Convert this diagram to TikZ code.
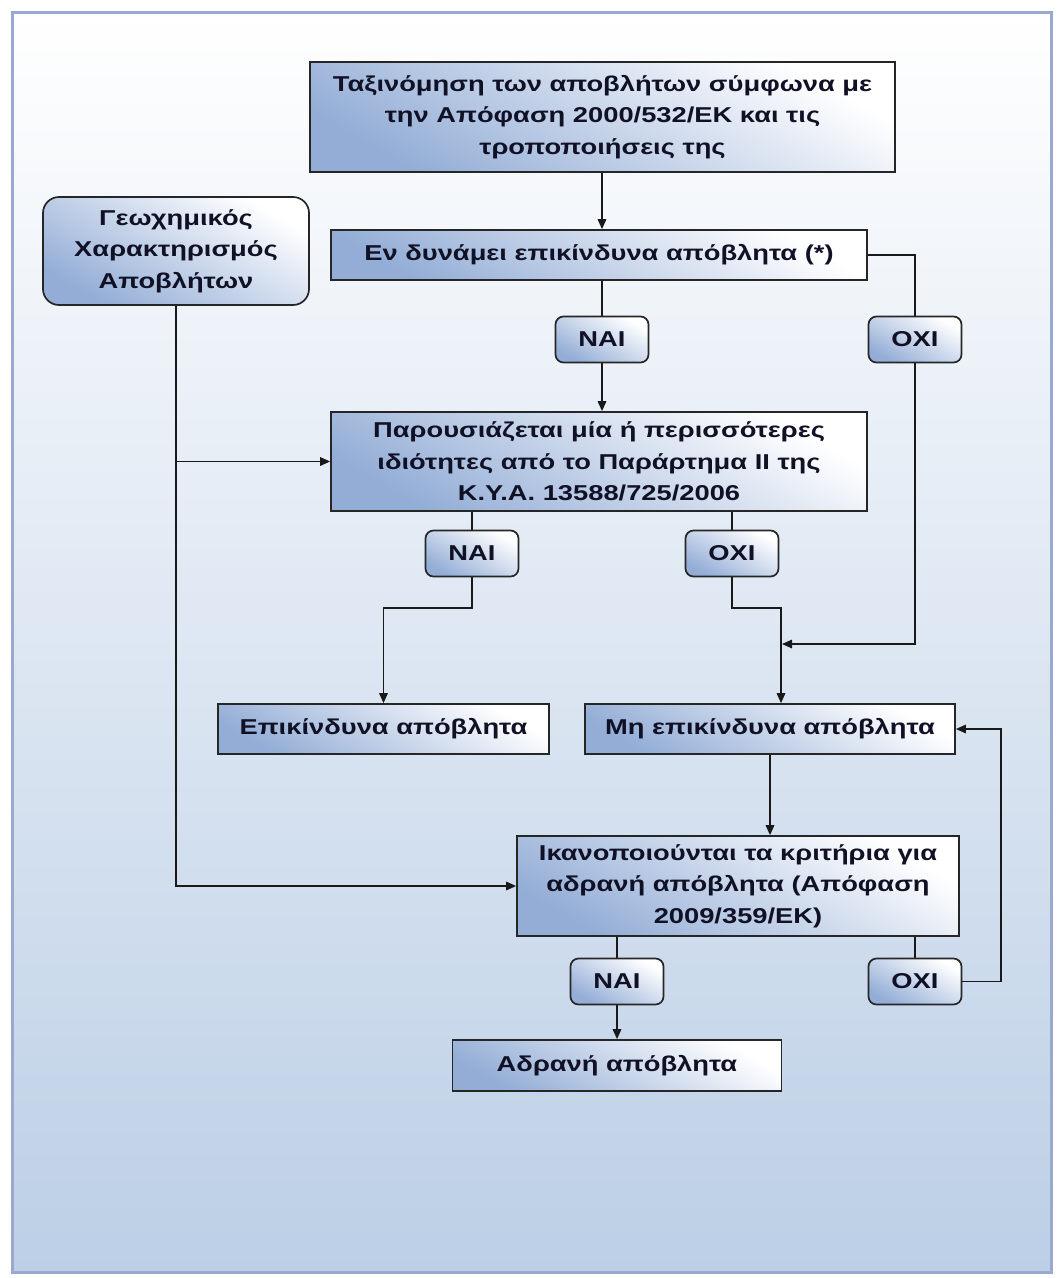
\documentclass[tikz,border=0pt]{standalone}
\usepackage{fontspec}
\setmainfont{Liberation Sans}[FakeStretch=1.27]
\usetikzlibrary{arrows.meta,calc}
\definecolor{boxblue}{HTML}{93ADD6}
\definecolor{bgblue}{HTML}{BCCFE6}
\definecolor{framec}{HTML}{9AA9CF}
\definecolor{txt}{HTML}{111126}
\begin{document}
\begin{tikzpicture}[x=1pt,y=-1pt,
  every node/.style={font=\fontsize{21.5}{31.5}\selectfont\bfseries, text=txt},
  sqbox/.style={draw=black!85, line width=1.7pt, top color=white, bottom color=boxblue,
    shading angle=-30, align=center, inner sep=0pt},
  rdbox/.style={sqbox, rounded corners=16pt},
  lbl/.style={sqbox, rounded corners=8pt, minimum width=93pt, minimum height=46pt},
  ln/.style={draw=black!90, line width=1.6pt},
  arr/.style={ln, -{Triangle[length=10pt,width=8.5pt]}}
]
\useasboundingbox (0,0) rectangle (1060,1278);
\fill[white] (0,0) rectangle (1060,1278);
\shade[top color=white, bottom color=bgblue] (12,12) rectangle (1051,1272);
\draw[framec, line width=3pt] (12,12) rectangle (1051,1272);

% nodes
\node[sqbox, minimum width=585pt, minimum height=110pt] (b1) at (602.5,117)
  {Ταξινόμηση των αποβλήτων σύμφωνα με\\την Απόφαση 2000/532/ΕΚ και τις\\τροποποιήσεις της};
\node[rdbox, minimum width=266pt, minimum height=108pt] (geo) at (176,251)
  {Γεωχημικός\\Χαρακτηρισμός\\Αποβλήτων};
\node[sqbox, minimum width=536pt, minimum height=50pt] (b2) at (599,255)
  {Εν δυνάμει επικίνδυνα απόβλητα (*)};
\node[lbl] (nai1) at (602,339.5) {ΝΑΙ};
\node[lbl] (oxi1) at (915,339.5) {ΟΧΙ};
\node[sqbox, minimum width=536pt, minimum height=99pt] (b3) at (599,461.5)
  {Παρουσιάζεται μία ή περισσότερες\\ιδιότητες από το Παράρτημα ΙΙ της\\Κ.Υ.Α. 13588/725/2006};
\node[lbl] (nai2) at (472,553.5) {ΝΑΙ};
\node[lbl] (oxi2) at (732,553.5) {ΟΧΙ};
\node[sqbox, minimum width=331pt, minimum height=50pt] (b4) at (383.5,729)
  {Επικίνδυνα απόβλητα};
\node[sqbox, minimum width=370pt, minimum height=50pt] (b5) at (770,729)
  {Μη επικίνδυνα απόβλητα};
\node[sqbox, minimum width=442pt, minimum height=100pt] (b6) at (738,886)
  {Ικανοποιούνται τα κριτήρια για\\αδρανή απόβλητα (Απόφαση\\2009/359/ΕΚ)};
\node[lbl] (nai3) at (617,981.5) {ΝΑΙ};
\node[lbl] (oxi3) at (915,981.5) {ΟΧΙ};
\node[sqbox, minimum width=329pt, minimum height=51pt] (b7) at (617,1065.5)
  {Αδρανή απόβλητα};

% helper coordinates
\coordinate (k1) at (472,608);
\coordinate (k2) at (781,608);
\coordinate (m1) at (782,644);
\coordinate (r1) at (1001,981.5);

% connectors
\draw[arr] (b1.south -| nai1) -- (b2.north -| nai1);
\draw[ln] (b2.south -| nai1) -- (nai1.north);
\draw[arr] (nai1.south) -- (b3.north -| nai1);
\draw[ln] (b2.east) -| (oxi1.north);
\draw[arr] (oxi1.south) |- (m1);
\draw[arr] (geo.south) |- (b6.west);
\draw[arr] (geo.south |- b3.west) -- (b3.west);
\draw[ln] (b3.south -| nai2) -- (nai2.north);
\draw[arr] (nai2.south) -- (k1) -| (b4.north);
\draw[ln] (b3.south -| oxi2) -- (oxi2.north);
\draw[arr] (oxi2.south) |- (k2) -- (b5.north -| k2);
\draw[arr] (b5.south) -- (b6.north -| b5.south);
\draw[ln] (b6.south -| nai3) -- (nai3.north);
\draw[arr] (nai3.south) -- (b7.north);
\draw[ln] (b6.south -| oxi3) -- (oxi3.north);
\draw[arr] (oxi3.east) -- (r1) |- (b5.east);
\end{tikzpicture}
\end{document}
